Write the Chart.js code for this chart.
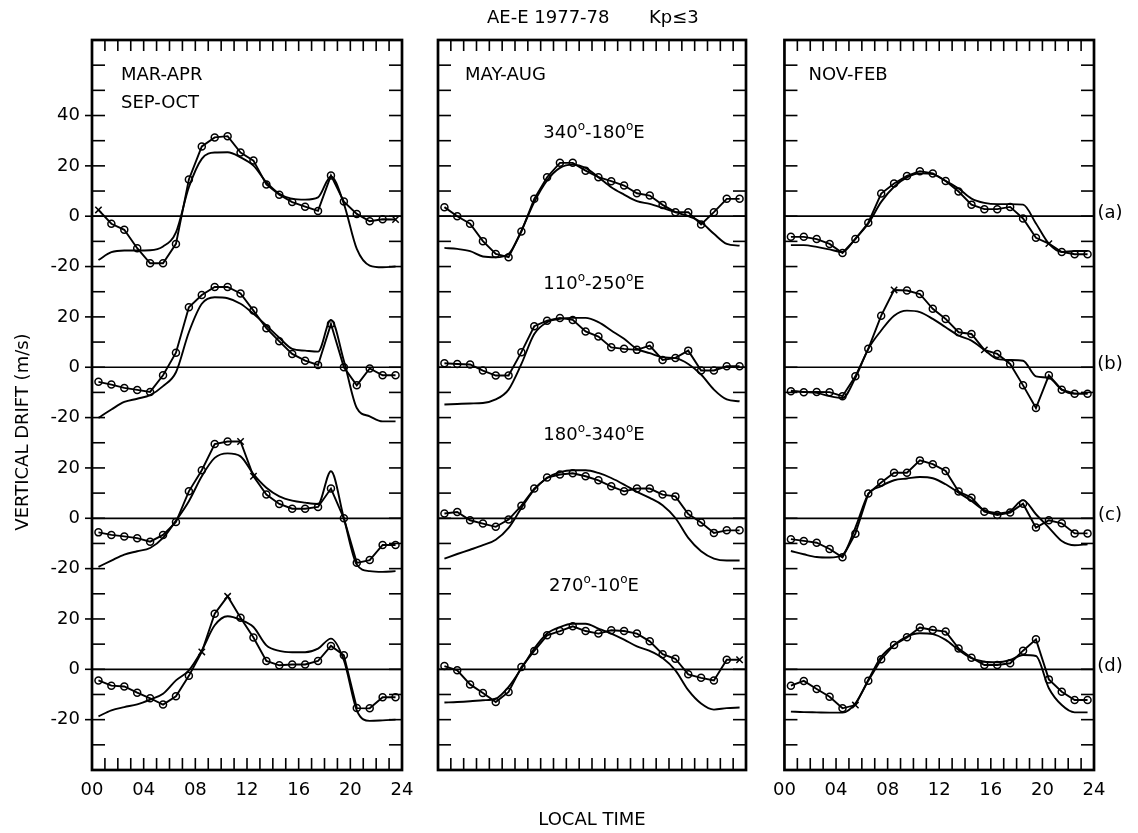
<!DOCTYPE html>
<html>
<head>
<meta charset="utf-8">
<script src="https://cdn.jsdelivr.net/npm/chart.js@4/dist/chart.umd.min.js"></script>
<style>
  body { margin: 0; background: #fff; width: 1138px; height: 833px; overflow: hidden; position: relative; }
  .panel { position: absolute; top: 0; height: 833px; }
</style>
</head>
<body>
<div class="panel" style="left:0;width:432px"><canvas id="c0" width="432" height="833"></canvas></div>
<div class="panel" style="left:418px;width:348px"><canvas id="c1" width="348" height="833"></canvas></div>
<div class="panel" style="left:763px;width:375px"><canvas id="c2" width="375" height="833"></canvas></div>
<script>
// local time of each bin (hours)
var hours = [0.5,1.5,2.5,3.5,4.5,5.5,6.5,7.5,8.5,9.5,10.5,11.5,12.5,13.5,14.5,15.5,16.5,17.5,18.5,19.5,20.5,21.5,22.5,23.5];
var hourLabels = ['00','04','08','12','16','20','24'];
var rowNames = ['(a)','(b)','(c)','(d)'];
var lonNames = [['340','180'],['110','250'],['180','340'],['270','10']];

// MAR-APR / SEP-OCT : observed (circles) and model (smooth)
var eqObsA = [2.5,-3,-5.4,-12.7,-18.7,-18.7,-11,14.6,27.7,31.3,31.8,25.3,22.1,12.6,8.5,5.6,3.8,2.1,16.2,5.8,0.9,-2,-1.2,-1.3];
var eqModA = [-17.4,-14.3,-13.6,-13.6,-13.5,-12,-6.4,11.5,22.8,25.3,25.4,23.4,20.1,13.5,8.9,6.9,6.6,7.5,15.8,4.9,-13,-19.6,-20.3,-20];
var eqObsB = [-5.8,-6.9,-8.2,-9,-9.8,-3.2,5.8,23.8,28.7,31.9,31.9,29.3,22.5,15.5,10.3,5.3,2.6,0.9,17.2,0,-7.2,-0.5,-3.2,-3.2];
var eqModB = [-20.1,-16.8,-13.8,-12.5,-11.1,-7.5,-2,13.9,25.2,27.8,27.4,25.2,21.2,16.6,11.7,7.3,6.6,6.2,18.8,2.6,-16.2,-19.5,-21.5,-21.5];
var eqObsC = [-5.6,-6.6,-7.2,-7.9,-9.3,-6.6,-1.5,10.7,19.1,29.5,30.5,30.5,16.7,9.4,5.7,3.8,3.8,4.5,11.8,0,-17.7,-16.6,-10.6,-10.6];
var eqModC = [-19.3,-16.8,-14.4,-13.1,-11.8,-7.8,-0.9,6.8,16.7,24,25.8,24.6,17.5,12.1,8.7,7,6.2,5.7,18.7,0,-18.4,-21,-21.3,-21];
var eqObsD = [-4.4,-6.5,-6.8,-9.3,-11.5,-14,-10.7,-2.6,6.9,22.1,29,20.5,12.6,3.3,1.6,1.9,1.9,3.3,9.3,5.6,-15.4,-15.5,-11.1,-11.1];
var eqModD = [-18.7,-16.3,-15,-13.9,-12,-9.7,-4.4,-0.4,7.5,17.5,21.1,19.7,16.8,9.5,7.3,6.8,6.8,8.2,12.2,3.6,-16.3,-20.5,-20.3,-20];
var eqCross = [[0,23],[],[11,12],[8,10]];

// MAY-AUG
var suObsA = [3.6,0,-3,-9.9,-15,-16.3,-6.1,6.9,15.5,21.2,21.2,18.1,15.5,13.9,12.2,9.1,8.2,4.5,1.6,1.6,-3.3,1.6,6.9,6.9];
var suModA = [-12.6,-13,-13.9,-16,-16.3,-15,-5.7,5.6,14.2,19.2,20.5,19.2,15.5,11.5,8.6,6,4.9,3.3,1.6,0,-2.4,-7,-11,-11.7];
var suObsB = [1.6,1.3,1.1,-1.3,-3.3,-3.3,6,16.3,18.5,19.6,18.8,14.2,12.2,7.9,7.3,6.9,8.6,2.9,3.7,6.6,-1.3,-1.3,0.4,0.4];
var suModB = [-14.8,-14.6,-14.4,-14.2,-12.8,-8.9,1.3,13.2,17.9,19.2,19.6,19.6,17.9,14.6,11.3,7.3,5.6,4,3.6,1.3,-2.9,-8.9,-12.8,-13.5];
var suObsC = [1.9,2.5,-0.8,-2.1,-3.4,-0.5,5,11.8,16.2,17.4,17.9,16.7,15.1,12.7,10.7,11.8,11.8,9.4,8.7,1.7,-1.7,-5.8,-4.8,-4.8];
var suModC = [-16,-14.2,-12.5,-10.7,-8.5,-3.8,4.1,11.4,16,18.3,19.1,19.1,18,16,13.4,10.5,8.1,5.2,0.1,-7.8,-13.1,-16,-16.8,-16.8];
var suObsD = [1.3,-0.4,-6,-9.4,-13,-9,0.9,7.3,13.5,15.2,17.1,15.2,14.2,15.5,15.2,14.2,11.1,6,4.2,-2,-3.4,-4.4,3.8,3.8];
var suModD = [-13.2,-13,-12.7,-12.3,-11.7,-7,0.3,8.2,14.2,16.8,18.1,18.1,16.2,14.2,11.8,9.1,7.3,4.5,-0.4,-8.3,-13.6,-16,-15.4,-15.2];
var suCross = [[],[],[],[23]];

// NOV-FEB
var wiObsA = [-8.2,-8.2,-9.1,-11,-14.6,-9.1,-2.6,9,13,16,17.9,17,14,9.8,4.6,2.8,2.8,3.7,-0.9,-8.6,-10.9,-14.2,-15.1,-15.1];
var wiModA = [-11.5,-11.5,-12.2,-13.2,-14.2,-8.9,-2.9,5.7,11.7,15.4,17,16.7,14,11,7,5.3,4.8,4.8,4.6,-2.9,-10.9,-14.2,-13.8,-13.8];
var wiObsB = [-9.5,-9.9,-9.8,-9.9,-11.5,-3.6,7.3,20.5,30.7,30.5,29.1,23.2,19.2,13.9,13.2,6.9,5.3,1.3,-7.2,-16.2,-3.2,-8.9,-10.5,-10.5];
var wiModB = [-9.3,-9.8,-10.2,-11.5,-12.2,-4.2,7.3,14.6,20.5,22.5,21.9,19.2,15.9,12.6,10.6,6.9,3.3,2.9,2.6,-3.6,-4.2,-8.9,-10.5,-10.5];
var wiObsC = [-8.3,-9,-9.7,-12.2,-15.5,-6.1,9.8,14.2,18.1,18.1,23,21.5,18.8,10.6,8.2,2.6,1.3,2.3,5.8,-3.7,-0.8,-2,-6,-6];
var wiModC = [-13,-14.3,-15.4,-15.6,-14.6,-3.7,9.5,12.8,15.1,15.8,16.4,15.9,13.5,10.2,6.9,3.2,2,2.9,7.2,1.6,-3.7,-9,-10.7,-10.3];
var wiObsD = [-6.5,-4.6,-7.8,-10.9,-15.5,-14.2,-4.5,4,9.7,12.7,16.6,15.6,15,8.3,4.6,1.7,1.7,2.4,7.4,11.9,-4,-8.9,-12.2,-12.2];
var wiModD = [-16.8,-17,-17.1,-17.2,-17.2,-13.5,-4.2,5,9.7,13,14.3,14,11.7,7.7,4.4,3,2.8,3.7,5.7,5.3,-7.5,-14.2,-17.1,-17.1];
var wiCross = [[20],[8,15],[],[5]];

// each row is drawn 60 m/s below the one above it
var ROW_STEP = 60;
var FAMILY = '"DejaVu Sans", Arial, Helvetica, sans-serif';
var FONT = '18px ' + FAMILY;
var SUP_FONT = '12px ' + FAMILY;

function tickLabel(v) {
  if (v % 20 !== 0 || v < -200 || v > 40) return '';
  if (v === 40) return '40';
  return String((((v + 20) % ROW_STEP) + ROW_STEP) % ROW_STEP - 20);
}

function line(ctx, x1, y1, x2, y2) {
  ctx.beginPath(); ctx.moveTo(x1, y1); ctx.lineTo(x2, y2); ctx.stroke();
}

// text with superscript "o" pieces, centered at cx
function supText(ctx, parts, cx, cy) {
  var w = 0;
  parts.forEach(function(p) { ctx.font = p[1] ? SUP_FONT : FONT; w += ctx.measureText(p[0]).width; });
  var x = cx - w / 2;
  ctx.textAlign = 'left'; ctx.textBaseline = 'middle';
  parts.forEach(function(p) {
    ctx.font = p[1] ? SUP_FONT : FONT;
    ctx.fillText(p[0], x, p[1] ? cy - 7 : cy);
    x += ctx.measureText(p[0]).width;
  });
}

var deco = {
  id: 'deco',
  afterDatasetsDraw: function(chart, args, o) {
    var ctx = chart.ctx, a = chart.chartArea, x = chart.scales.x, y = chart.scales.y;
    ctx.save();
    ctx.strokeStyle = '#000'; ctx.fillStyle = '#000';
    ctx.lineWidth = 1.7;
    for (var r = 0; r < 4; r++) {
      var zy = y.getPixelForValue(-r * ROW_STEP);
      line(ctx, a.left, zy, a.right, zy);
    }
    ctx.lineWidth = 1.6;
    for (var h = 1; h < 24; h++) {
      var px = x.getPixelForValue(h);
      line(ctx, px, a.top, px, a.top + 11);
      line(ctx, px, a.bottom, px, a.bottom - 12);
    }
    for (var v = -210; v <= 60; v += 10) {
      var py = y.getPixelForValue(v);
      line(ctx, a.left, py, a.left + 13, py);
      line(ctx, a.right - 13, py, a.right, py);
      if (o.panel === 0 && tickLabel(v) !== '') line(ctx, a.left - 7, py, a.left, py);
    }
    ctx.lineWidth = 2.7;
    ctx.strokeRect(a.left, a.top, a.right - a.left, a.bottom - a.top);

    ctx.font = FONT; ctx.textAlign = 'left'; ctx.textBaseline = 'middle';
    o.names.forEach(function(n, i) {
      ctx.fillText(n, a.left + o.nameDx, y.getPixelForValue(56 - i * 11.2));
    });
    var off = o.offsetX;
    if (o.panel === 0) {
      ctx.save();
      ctx.translate(23 - off, 432);
      ctx.rotate(-Math.PI / 2);
      ctx.textAlign = 'center';
      ctx.fillText('VERTICAL DRIFT (m/s)', 0, 0);
      ctx.restore();
    }
    if (o.panel === 1) {
      ctx.textAlign = 'left';
      ctx.fillText('AE-E 1977-78', 487 - off, 18);
      ctx.fillText('Kp\u22643', 649 - off, 18);
      ctx.textAlign = 'center';
      ctx.fillText('LOCAL TIME', 592 - off, 820);
      var cx = (a.left + a.right) / 2;
      lonNames.forEach(function(l, i) {
        supText(ctx, [[l[0], false], ['o', true], ['-' + l[1], false], ['o', true], ['E', false]],
          cx + 2, y.getPixelForValue(-i * ROW_STEP + 32.8));
      });
    }
    if (o.panel === 2) {
      ctx.textAlign = 'center';
      rowNames.forEach(function(n, i) {
        ctx.fillText(n, a.right + 16, y.getPixelForValue(-i * ROW_STEP) - 3);
      });
    }
    ctx.restore();
  }
};

function rowData(vals, shift) {
  return vals.map(function(v, i) { return { x: hours[i], y: v + shift }; });
}

function makeDatasets(obs, mod, cross) {
  var ds = [];
  for (var r = 0; r < 4; r++) {
    var shift = -r * ROW_STEP;
    var styles = obs[r].map(function(v, i) { return cross[r].indexOf(i) >= 0 ? 'crossRot' : 'circle'; });
    ds.push({
      data: rowData(mod[r], shift),
      borderColor: '#000', borderWidth: 1.9, pointRadius: 0,
      cubicInterpolationMode: 'monotone'
    });
    ds.push({
      data: rowData(obs[r], shift),
      borderColor: '#000', borderWidth: 1.9, tension: 0,
      pointStyle: styles,
      pointRadius: styles.map(function(s) { return s === 'circle' ? 3.5 : 4.5; }),
      pointBorderWidth: 1.5,
      pointBorderColor: '#000',
      pointBackgroundColor: 'rgba(0,0,0,0)'
    });
  }
  return ds;
}

var panels = [
  { id: 'c0', offsetX: 0, obs: [eqObsA, eqObsB, eqObsC, eqObsD], mod: [eqModA, eqModB, eqModC, eqModD], cross: eqCross,
    names: ['MAR-APR', 'SEP-OCT'], nameDx: 29, pad: { left: 0, right: 30 }, yWidth: 92, xLabels: true, yLabels: true },
  { id: 'c1', offsetX: 418, obs: [suObsA, suObsB, suObsC, suObsD], mod: [suModA, suModB, suModC, suModD], cross: suCross,
    names: ['MAY-AUG'], nameDx: 27, pad: { left: 20, right: 20 }, yWidth: 0, xLabels: false, yLabels: false },
  { id: 'c2', offsetX: 763, obs: [wiObsA, wiObsB, wiObsC, wiObsD], mod: [wiModA, wiModB, wiModC, wiModD], cross: wiCross,
    names: ['NOV-FEB'], nameDx: 24, pad: { left: 20, right: 44 }, yWidth: 0, xLabels: true, yLabels: false }
];

panels.forEach(function(p, k) {
  new Chart(document.getElementById(p.id).getContext('2d'), {
    type: 'line',
    data: { datasets: makeDatasets(p.obs, p.mod, p.cross) },
    plugins: [deco],
    options: {
      responsive: false,
      animation: false,
      devicePixelRatio: 1,
      layout: { padding: { top: 40, bottom: 0, left: p.pad.left, right: p.pad.right } },
      plugins: {
        legend: { display: false },
        tooltip: { enabled: false },
        deco: { panel: k, names: p.names, nameDx: p.nameDx, offsetX: p.offsetX }
      },
      scales: {
        x: {
          type: 'linear', min: 0, max: 24,
          grid: { display: false, drawTicks: false },
          border: { display: false },
          ticks: {
            display: p.xLabels, stepSize: 4, padding: 10, color: '#000', maxRotation: 0,
            font: { family: FAMILY, size: 18 },
            callback: function(v) { return hourLabels[v / 4]; }
          },
          afterFit: function(s) { s.height = 63; }
        },
        y: {
          type: 'linear', min: -220, max: 70,
          display: p.yLabels,
          grid: { display: false, drawTicks: false },
          border: { display: false },
          ticks: {
            stepSize: 10, autoSkip: false, padding: 12, color: '#000',
            font: { family: FAMILY, size: 18 },
            callback: function(v) { return tickLabel(v); }
          },
          afterFit: function(s) { s.width = p.yWidth; }
        }
      }
    }
  });
});
</script>
</body>
</html>
